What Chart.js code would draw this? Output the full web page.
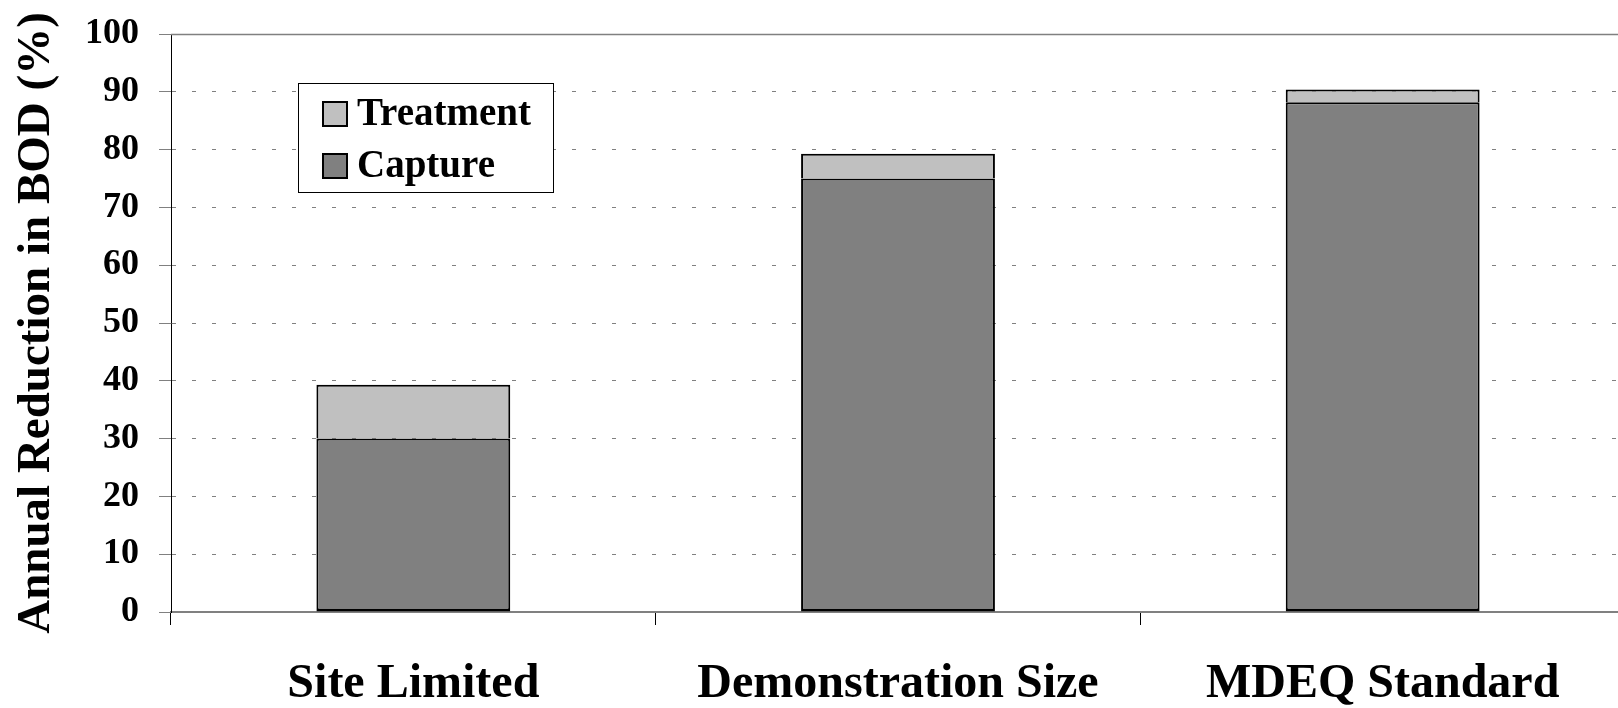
<!DOCTYPE html>
<html>
<head>
<meta charset="utf-8">
<script src="https://cdn.jsdelivr.net/npm/chart.js@4"></script>
<style>
  html, body { margin: 0; padding: 0; background: #fff; overflow: hidden; }
  #wrap { width: 1625px; height: 708px; position: relative; }
</style>
</head>
<body>
<div id="wrap"><canvas id="bodChart"></canvas></div>
<script>
// Values
const categories = ['Site Limited', 'Demonstration Size', 'MDEQ Standard'];
const captureValues = [30, 75, 88.2];
const treatmentValues = [9.3, 4.3, 2.2];
const yTicks = [0, 10, 20, 30, 40, 50, 60, 70, 80, 90, 100];

const serif = '"Liberation Serif", "Times New Roman", serif';

// Boxed legend drawn inside the plot, Treatment listed first
const boxedLegend = {
    id: 'boxedLegend',
    afterDraw(chart) {
        const ctx = chart.ctx;
        const area = chart.chartArea;
        const x = area.left + 127, y = area.top + 49, w = 255, h = 109;
        ctx.save();
        ctx.fillStyle = '#fff';
        ctx.fillRect(x, y, w, h);
        ctx.strokeStyle = '#000';
        ctx.lineWidth = 1;
        ctx.strokeRect(x + 0.5, y + 0.5, w, h);
        const items = chart.data.datasets.slice().reverse();
        ctx.font = 'bold 39px ' + serif;
        ctx.textBaseline = 'middle';
        items.forEach((ds, i) => {
            const sy = y + 19 + i * 52;
            ctx.fillStyle = ds.backgroundColor;
            ctx.fillRect(x + 25, sy, 24, 24);
            ctx.lineWidth = 2;
            ctx.strokeStyle = '#000';
            ctx.strokeRect(x + 25, sy, 24, 24);
            ctx.fillStyle = '#000';
            ctx.fillText(ds.label, x + 59, sy + 13);
        });
        ctx.restore();
    }
};

const ctx = document.getElementById('bodChart').getContext('2d');
new Chart(ctx, {
    type: 'bar',
    data: {
        labels: categories,
        datasets: [{
            label: 'Capture',
            data: captureValues,
            backgroundColor: '#808080',
            borderColor: '#000',
            borderWidth: { top: 2, right: 2, bottom: 3, left: 2 },
            borderSkipped: false
        }, {
            label: 'Treatment',
            data: treatmentValues,
            backgroundColor: '#c0c0c0',
            borderColor: '#000',
            borderWidth: { top: 2, right: 2, bottom: 0, left: 2 },
            borderSkipped: false
        }]
    },
    options: {
        responsive: true,
        maintainAspectRatio: false,
        animation: false,
        layout: { padding: { top: 34, left: 0, right: 0, bottom: 0 } },
        plugins: {
            legend: { display: false },
            tooltip: { enabled: false }
        },
        datasets: {
            bar: { barPercentage: 0.8, categoryPercentage: 0.5 }
        },
        scales: {
            x: {
                stacked: true,
                afterFit: (scale) => {
                    scale.height = 96;
                    scale.paddingLeft = 0; scale.paddingRight = 0;
                    scale.paddingTop = 0; scale.paddingBottom = 0;
                },
                grid: {
                    offset: true,
                    drawOnChartArea: false,
                    drawTicks: true,
                    tickLength: 13,
                    tickColor: '#000',
                    tickWidth: 1
                },
                border: { display: true, color: '#808080', width: 2 },
                ticks: {
                    color: '#000',
                    padding: 31,
                    font: { family: serif, size: 48, weight: 'bold' }
                }
            },
            y: {
                stacked: true,
                min: 0,
                max: 100,
                afterFit: (scale) => {
                    scale.width = 171;
                    scale.paddingTop = 0; scale.paddingBottom = 0;
                    scale.paddingLeft = 0; scale.paddingRight = 0;
                },
                afterBuildTicks: (scale) => { scale.ticks = yTicks.map(v => ({ value: v })); },
                grid: {
                    color: (c) => (c.tick && (c.tick.value === 0 || c.tick.value === 100) ? 'rgba(0,0,0,0)' : '#808080'),
                    lineWidth: 1,
                    tickLength: 12,
                    tickColor: '#808080',
                    tickWidth: 1
                },
                border: { display: true, color: '#000', width: 1, dash: [4, 16] },
                ticks: {
                    color: '#000',
                    padding: 20,
                    font: { family: serif, size: 36, weight: 'bold' }
                },
                title: {
                    display: true,
                    text: 'Annual Reduction in BOD (%)',
                    color: '#000',
                    padding: { top: 9, bottom: 0 },
                    font: { family: serif, size: 47, weight: 'bold' }
                }
            }
        }
    },
    plugins: [boxedLegend, {
        // solid top frame line at 100 (the reference has it undashed)
        id: 'topFrame',
        beforeDatasetsDraw(chart) {
            const c = chart.ctx, a = chart.chartArea;
            const y = Math.round(chart.scales.y.getPixelForValue(100)) + 0.5;
            c.save();
            c.strokeStyle = '#808080';
            c.lineWidth = 1.5;
            c.beginPath();
            c.moveTo(a.left, y);
            c.lineTo(a.right, y);
            c.stroke();
            c.restore();
        }
    }]
});
</script>
</body>
</html>
